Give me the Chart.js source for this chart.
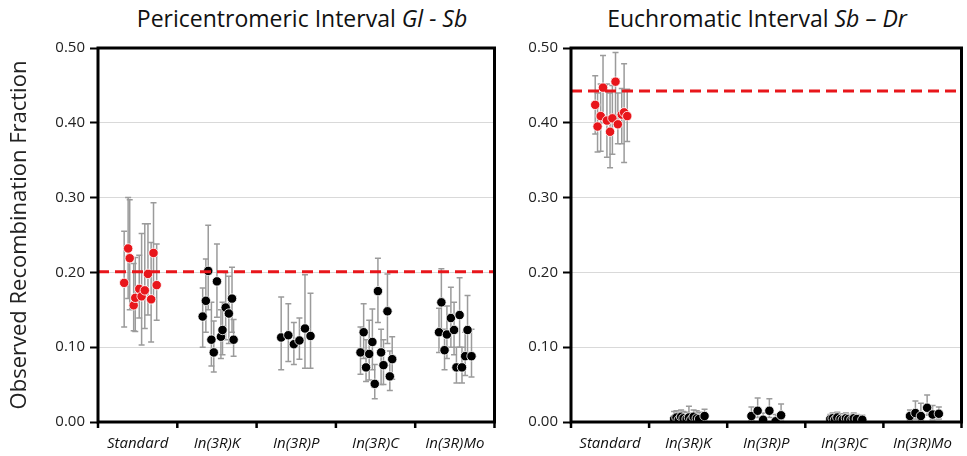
<!DOCTYPE html>
<html>
<head>
<meta charset="utf-8">
<title>Observed Recombination Fraction</title>
<script src="https://cdn.jsdelivr.net/npm/chart.js"></script>
<style>
  body { margin: 0; background: #fff; font-family: 'Open Sans', sans-serif; }
  #wrap { position: relative; width: 967px; height: 456px; }
  .ttl { position: absolute; top: 2px; font-size: 23px; color: #111; text-align: center; white-space: nowrap; }
  canvas { position: absolute; top: 0; }
</style>
</head>
<body>
<div id="wrap">
  <div class="ttl" style="left:97px; width:410px;">Pericentromeric Interval <i>Gl - Sb</i></div>
  <div class="ttl" style="left:560px; width:394px;">Euchromatic Interval <i>Sb – Dr</i></div>
  <canvas id="chartGl" width="500" height="456" style="left:0"></canvas>
  <canvas id="chartSb" width="467" height="456" style="left:500px"></canvas>
</div>

<script>
// categories and axis
const categories = ['Standard', 'In(3R)K', 'In(3R)P', 'In(3R)C', 'In(3R)Mo'];
const yTicks = [0, 0.1, 0.2, 0.3, 0.4, 0.5];

// Gl - Sb interval (left panel)
const glGroup = [0,0,0,0,0,0,0,0,0,0,0,0, 1,1,1,1,1,1,1,1,1,1,1,1, 2,2,2,2,2,2, 3,3,3,3,3,3,3,3,3,3,3,3, 4,4,4,4,4,4,4,4,4,4,4,4];
const glJitter = [-0.17,-0.12,-0.10,-0.05,-0.03,0.02,0.05,0.09,0.13,0.17,0.20,0.24,
                  -0.18,-0.14,-0.11,-0.07,-0.04,0.00,0.05,0.07,0.11,0.15,0.19,0.21,
                  -0.19,-0.10,-0.03,0.04,0.11,0.18,
                  -0.19,-0.15,-0.12,-0.08,-0.04,-0.01,0.03,0.07,0.10,0.15,0.18,0.21,
                  -0.20,-0.17,-0.13,-0.10,-0.05,-0.01,0.02,0.06,0.09,0.13,0.16,0.21];
const glFrac = [0.186,0.232,0.219,0.156,0.166,0.178,0.168,0.176,0.198,0.164,0.226,0.183,
                0.141,0.162,0.202,0.110,0.093,0.188,0.114,0.123,0.153,0.145,0.165,0.110,
                0.113,0.116,0.104,0.109,0.125,0.115,
                0.093,0.120,0.073,0.091,0.107,0.051,0.175,0.093,0.076,0.148,0.061,0.084,
                0.120,0.160,0.096,0.117,0.139,0.123,0.073,0.143,0.073,0.088,0.123,0.088];
const glLow = [0.127,0.165,0.150,0.122,0.121,0.139,0.103,0.125,0.143,0.107,0.165,0.136,
               0.100,0.120,0.150,0.075,0.067,0.140,0.085,0.090,0.110,0.105,0.120,0.088,
               0.070,0.081,0.077,0.084,0.072,0.072,
               0.064,0.085,0.054,0.056,0.070,0.031,0.133,0.050,0.050,0.105,0.042,0.057,
               0.093,0.120,0.070,0.085,0.100,0.090,0.052,0.100,0.052,0.062,0.090,0.060];
const glHigh = [0.255,0.300,0.297,0.212,0.220,0.223,0.252,0.265,0.265,0.240,0.293,0.238,
                0.179,0.218,0.263,0.160,0.135,0.238,0.150,0.160,0.200,0.195,0.207,0.137,
                0.167,0.158,0.133,0.139,0.197,0.172,
                0.127,0.158,0.110,0.136,0.151,0.077,0.219,0.124,0.110,0.198,0.095,0.114,
                0.152,0.205,0.124,0.155,0.180,0.160,0.100,0.193,0.100,0.120,0.169,0.124];
const glExpected = 0.201;

// Sb - Dr interval (right panel)
const sbGroup = [0,0,0,0,0,0,0,0,0,0,0,0, 1,1,1,1,1,1,1,1,1,1,1,1, 2,2,2,2,2,2, 3,3,3,3,3,3,3,3,3,3,3,3, 4,4,4,4,4,4];
const sbJitter = [-0.19,-0.16,-0.12,-0.09,-0.04,0.00,0.03,0.07,0.10,0.15,0.18,0.22,
                  -0.18,-0.15,-0.12,-0.09,-0.06,-0.02,0.01,0.04,0.07,0.11,0.14,0.21,
                  -0.19,-0.11,-0.04,0.04,0.12,0.19,
                  -0.18,-0.15,-0.12,-0.09,-0.05,-0.02,0.02,0.05,0.09,0.12,0.16,0.23,
                  -0.16,-0.09,-0.02,0.06,0.13,0.21];
const sbFrac = [0.424,0.395,0.409,0.447,0.403,0.388,0.406,0.455,0.398,0.411,0.414,0.409,
                0.004,0.006,0.003,0.007,0.005,0.004,0.006,0.003,0.007,0.005,0.004,0.008,
                0.008,0.015,0.003,0.015,0.001,0.009,
                0.004,0.005,0.003,0.006,0.004,0.003,0.005,0.004,0.003,0.005,0.004,0.003,
                0.008,0.012,0.008,0.019,0.010,0.011];
const sbLow = [0.385,0.361,0.362,0.400,0.354,0.340,0.358,0.410,0.372,0.372,0.347,0.375,
               0.001,0.002,0.000,0.002,0.001,0.001,0.002,0.000,0.002,0.001,0.001,0.003,
               0.002,0.006,0.000,0.006,0.000,0.003,
               0.001,0.001,0.000,0.002,0.001,0.000,0.001,0.001,0.000,0.001,0.001,0.000,
               0.002,0.004,0.002,0.009,0.003,0.004];
const sbHigh = [0.463,0.440,0.452,0.490,0.452,0.440,0.450,0.494,0.440,0.446,0.479,0.445,
                0.014,0.015,0.013,0.016,0.014,0.013,0.021,0.012,0.016,0.015,0.013,0.017,
                0.020,0.032,0.012,0.031,0.010,0.024,
                0.010,0.012,0.009,0.013,0.011,0.009,0.012,0.010,0.009,0.012,0.010,0.009,
                0.016,0.028,0.025,0.036,0.022,0.020];
const sbExpected = 0.4425;

Chart.defaults.font.family = "'Open Sans', sans-serif";
Chart.defaults.color = '#222';

// whiskers behind the dots
const errorBars = {
  id: 'errorBars',
  beforeDatasetsDraw(chart) {
    const ctx = chart.ctx, y = chart.scales.y;
    ctx.save();
    ctx.strokeStyle = '#9b9b9b';
    ctx.lineWidth = 1.5;
    chart.data.datasets.forEach((ds, i) => {
      if (!ds.low) return;
      chart.getDatasetMeta(i).data.forEach((pt, j) => {
        const top = y.getPixelForValue(ds.high[j]);
        const bot = y.getPixelForValue(ds.low[j]);
        ctx.beginPath();
        ctx.moveTo(pt.x, top); ctx.lineTo(pt.x, bot);
        ctx.moveTo(pt.x - 3, top); ctx.lineTo(pt.x + 3, top);
        ctx.moveTo(pt.x - 3, bot); ctx.lineTo(pt.x + 3, bot);
        ctx.stroke();
      });
    });
    ctx.restore();
  }
};

// black box + category separator ticks
const frame = {
  id: 'frame',
  afterDraw(chart) {
    const ctx = chart.ctx, a = chart.chartArea, x = chart.scales.x;
    ctx.save();
    ctx.strokeStyle = '#000';
    ctx.lineWidth = 3;
    ctx.strokeRect(a.left, a.top, a.right - a.left, a.bottom - a.top);
    ctx.lineWidth = 2.5;
    for (let i = 0; i <= categories.length; i++) {
      const px = x.getPixelForValue(i);
      ctx.beginPath();
      ctx.moveTo(px, a.bottom);
      ctx.lineTo(px, a.bottom + 6);
      ctx.stroke();
    }
    ctx.restore();
  }
};

function makePanel(id, group, jitter, frac, low, high, expected, axisWidth, rightPad, showTitle) {
  const red = { data: [], low: [], high: [] }, black = { data: [], low: [], high: [] };
  group.forEach((g, i) => {
    const s = g === 0 ? red : black;
    s.data.push({ x: g + 0.5 + jitter[i], y: frac[i] });
    s.low.push(low[i]);
    s.high.push(high[i]);
  });
  const pointStyle = { pointRadius: 4.7, borderWidth: 0.8, borderColor: '#fff', order: 1 };

  return new Chart(document.getElementById(id), {
    type: 'scatter',
    data: {
      datasets: [
        { type: 'line', data: [{ x: 0, y: expected }, { x: categories.length, y: expected }],
          borderColor: '#e8161b', borderWidth: 3, borderDash: [11, 6], pointRadius: 0, order: 0 },
        Object.assign({ data: red.data, low: red.low, high: red.high, backgroundColor: '#e8161b' }, pointStyle),
        Object.assign({ data: black.data, low: black.low, high: black.high, backgroundColor: '#000' }, pointStyle)
      ]
    },
    options: {
      responsive: false,
      animation: false,
      devicePixelRatio: 1,
      layout: { padding: { top: 48, right: rightPad, bottom: 0, left: 0 } },
      plugins: { legend: { display: false }, tooltip: { enabled: false } },
      scales: {
        x: {
          type: 'linear', min: 0, max: categories.length,
          afterBuildTicks: s => { s.ticks = categories.map((c, i) => ({ value: i + 0.5 })); },
          afterFit: s => { s.height = 34; },
          grid: { drawOnChartArea: false, drawTicks: false },
          border: { display: false },
          ticks: { autoSkip: false, maxRotation: 0, padding: 13, color: '#111',
                   font: { size: 15, style: 'italic', weight: '500' },
                   callback: (v, i) => categories[i] }
        },
        y: {
          min: 0, max: 0.5,
          afterBuildTicks: s => { s.ticks = yTicks.map(v => ({ value: v })); },
          afterFit: s => { s.width = axisWidth; },
          grid: { color: '#d9d9d9', lineWidth: 1, tickColor: '#000', tickWidth: 2, tickLength: 8 },
          border: { display: false },
          ticks: { padding: 5, color: '#222', font: { size: 15 }, callback: v => v.toFixed(2) },
          title: { display: showTitle, text: 'Observed Recombination Fraction',
                   color: '#222', font: { size: 22 }, padding: { top: 7, bottom: 0 } }
        }
      }
    },
    plugins: [errorBars, frame]
  });
}

makePanel('chartGl', glGroup, glJitter, glFrac, glLow, glHigh, glExpected, 98, 3, true);
makePanel('chartSb', sbGroup, sbJitter, sbFrac, sbLow, sbHigh, sbExpected, 71, 2, false);
</script>
</body>
</html>
